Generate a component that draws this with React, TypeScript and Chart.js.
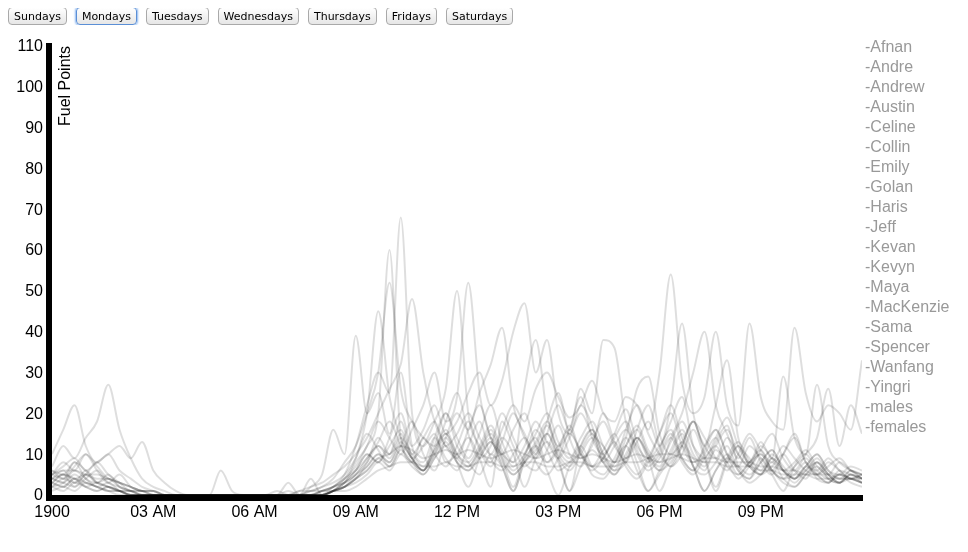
import { useEffect, useRef } from "react";
import { Chart, registerables } from "chart.js";

Chart.register(...registerables);

const days = ["Sundays", "Mondays", "Tuesdays", "Wednesdays", "Thursdays", "Fridays", "Saturdays"];
const activeDay = "Mondays";

const names = [
  "Afnan", "Andre", "Andrew", "Austin", "Celine", "Collin", "Emily", "Golan", "Haris", "Jeff",
  "Kevan", "Kevyn", "Maya", "MacKenzie", "Sama", "Spencer", "Wanfang", "Yingri", "males", "females",
];

// one value every 20 minutes, 00:00 .. 24:00
const afnan = [3,2,4,2,1,2,1,0,0, 0,0,0,0,0,0,0,0,0,0,0,0,0,0,0,1, 2,5,12,22,30,25,68,20,12,15,8,10, 14,9,2,18,12,7,10,15,9,1,12,16, 10,6,8,14,9,1,7,12,18,10,2,9, 13,8,5,7,10,6,4,8,5,3,6,4];
const andre = [6,5,8,4,3,5,2,1,0, 0,0,0,0,0,0,6,1,0,0,0,0,1,0,0,0, 1,3,8,12,20,60,14,8,6,14,20,12, 8,5,10,7,1,9,16,11,6,8,12,7, 5,9,14,8,1,6,10,15,7,5,8,12, 6,4,9,5,1,7,10,6,4,5,3,2];
const andrew = [2,4,3,6,3,2,1,1,0, 0,0,0,0,0,0,0,0,0,0,0,0,0,0,1,2, 4,8,12,20,30,52,26,18,14,12,18,25, 15,9,12,20,14,8,6,11,17,10,7,13, 18,12,8,5,9,15,22,14,9,6,11,8, 4,7,10,6,3,2,5,8,4,3,5,3];
const austin = [5,8,6,10,7,4,3,2,1, 1,0,0,0,0,0,0,0,0,0,0,0,0,1,2,3, 5,7,10,14,20,26,32,48,30,18,12,9, 16,22,14,10,8,12,18,13,9,14,20,15, 12,8,16,22,15,10,7,12,18,14,9,6, 10,15,11,8,12,9,6,5,8,6,4,5];
const celine = [7,12,9,14,18,27,16,9,4, 2,1,0,0,0,0,0,0,0,0,0,0,0,0,0,0, 1,4,9,20,45,24,14,9,6,10,15,8, 2,9,13,7,1,8,12,6,0,7,10,5, 4,8,12,6,1,5,9,13,7,1,6,10, 6,3,5,8,4,2,5,7,4,3,4,3];
const collin = [10,16,22,12,8,10,6,4,2, 1,0,0,0,0,0,0,0,0,0,0,1,0,0,2,5, 16,10,39,20,25,15,30,12,8,14,9,6, 12,18,9,6,10,14,8,5,9,15,11,7, 9,13,7,4,8,12,16,9,6,10,14,8, 12,7,5,9,6,4,7,10,6,5,7,6];
const emily = [4,3,5,3,2,1,1,0,0, 0,0,0,0,0,0,0,0,0,0,0,0,0,0,0,0, 1,2,5,8,12,10,15,9,12,18,26,50, 20,12,8,14,10,2,9,13,8,1,7,11, 8,5,9,14,10,6,8,12,7,1,6,9, 7,5,8,11,6,4,6,9,5,3,5,4];
const golan = [3,5,2,4,6,3,2,1,1, 0,0,0,0,0,0,0,0,0,0,0,0,3,0,0,1, 2,4,7,12,18,14,10,16,22,30,18,24, 52,25,14,10,16,20,12,8,11,17,10,6, 9,14,18,11,7,10,15,9,6,12,16,10, 5,8,10,6,4,5,8,4,3,5,4,3];
const haris = [2,3,6,4,2,3,1,0,0, 0,0,0,0,0,0,0,0,0,0,0,0,0,0,0,0, 1,3,6,10,8,14,20,12,16,22,15,18, 25,30,22,28,40,47,30,38,20,15,22,17, 8,12,16,10,6,9,14,8,5,9,12,7, 5,8,11,6,4,7,9,5,3,6,5,4];
const jeff = [1,2,1,3,2,1,0,0,0, 0,0,0,0,0,0,0,0,0,0,0,0,0,1,1,2, 3,5,9,15,11,7,12,18,10,6,14,20, 16,25,32,41,22,15,10,18,25,14,9,12, 20,13,8,16,22,12,7,10,16,9,1,8, 12,7,5,9,6,4,7,5,3,5,4,3];
const kevan = [5,4,8,6,3,4,2,1,0, 0,0,0,0,0,0,0,0,0,0,0,0,0,0,4,0, 1,2,4,8,14,10,18,9,6,12,20,14, 9,15,22,13,8,26,38,20,12,16,24,14, 10,15,21,13,8,11,18,24,12,8,13,17, 7,4,8,11,6,3,6,8,5,3,5,4];
const kevyn = [4,6,3,5,8,5,3,1,1, 0,0,0,0,0,0,0,0,0,0,0,0,0,0,0,0, 2,3,5,9,13,18,12,8,14,10,7,12, 18,11,7,13,20,14,9,15,22,16,26,20, 38,36,18,12,9,15,20,12,8,11,16,10, 7,12,9,6,10,14,8,5,7,9,6,5];
const maya = [3,2,4,3,2,1,1,0,0, 0,0,0,0,0,0,0,0,0,0,0,0,0,0,0,0, 1,3,6,10,8,12,16,10,14,18,12,15, 20,14,10,16,22,18,26,30,24,19,22,28, 20,18,24,22,16,30,54,28,20,24,40,22, 17,42,24,18,16,41,25,18,22,20,16,33];
const mackenzie = [2,1,3,2,1,2,1,0,0, 0,0,0,0,0,0,0,0,0,0,0,0,0,0,0,1, 2,3,5,7,10,8,12,9,6,10,14,9, 7,11,15,9,2,10,14,8,12,16,10,7, 11,15,9,13,18,12,22,42,20,12,9,14, 10,7,12,9,6,8,11,7,5,8,6,4];
const sama = [6,4,7,10,6,3,5,2,1, 0,0,0,0,0,0,0,0,0,0,0,0,0,0,0,0, 1,2,4,6,9,7,11,8,5,9,13,8, 6,10,14,9,5,8,12,17,10,7,11,15, 9,6,12,16,10,7,14,20,30,40,22,15, 9,14,8,5,10,15,8,6,9,6,4,5];
const spencer = [3,5,4,2,3,2,1,1,0, 0,0,0,0,0,0,0,0,0,0,0,0,0,0,1,1, 2,4,6,9,12,9,14,10,7,11,16,10, 8,12,17,11,7,10,15,20,13,9,14,18, 12,8,14,26,29,15,10,13,18,12,22,33, 14,9,6,10,7,4,7,10,6,4,6,5];
const wanfang = [4,3,2,5,3,2,1,0,0, 0,0,0,0,0,0,0,0,0,0,0,0,0,0,0,0, 1,2,4,7,10,8,13,9,6,11,15,10, 7,11,16,10,6,9,13,18,11,8,12,16, 10,7,12,17,11,8,13,18,12,9,14,19, 12,8,13,9,29,14,10,27,12,8,6,5];
const yingri = [5,7,9,6,8,10,12,9,13, 6,3,1,0,0,0,0,0,0,0,0,0,0,0,0,0, 1,2,3,5,8,6,10,7,5,9,12,8, 6,9,13,8,5,8,11,15,9,6,10,14, 8,5,10,14,9,6,11,16,10,7,12,16, 10,7,11,15,9,6,10,14,26,12,22,15];
const males = [5,6,6,5,4,4,3,2,1, 1,0,0,0,0,0,0,0,0,0,0,0,0,0,0,1, 1,2,4,6,9,10,12,11,9,10,11,10, 11,10,9,10,11,10,9,10,11,10,9,10, 9,8,9,10,9,8,9,10,9,8,8,7, 7,7,6,6,5,5,5,4,4,4,4,3];
const females = [4,5,4,5,5,4,3,2,1, 1,0,0,0,0,0,0,0,0,0,0,0,0,0,0,0, 1,1,2,4,6,7,8,8,7,7,8,7, 7,8,8,7,7,8,8,7,7,8,8,7, 7,7,8,8,9,10,10,9,8,9,9,8, 8,8,7,7,6,6,5,5,5,4,4,4];

const series = [
  afnan, andre, andrew, austin, celine, collin, emily, golan, haris, jeff,
  kevan, kevyn, maya, mackenzie, sama, spencer, wanfang, yingri, males, females,
];

const xTickLabels = ["1900", "03 AM", "06 AM", "09 AM", "12 PM", "03 PM", "06 PM", "09 PM"];
const yTicks = [0, 10, 20, 30, 40, 50, 60, 70, 80, 90, 100, 110];
const yTitle = "Fuel Points";

const font = '"Liberation Sans", Arial, Helvetica, sans-serif';

const overlayText = {
  id: "overlayText",
  afterDraw(chart: Chart) {
    const { ctx, chartArea } = chart;
    ctx.save();
    ctx.font = `16px ${font}`;
    ctx.fillStyle = "#999";
    ctx.textBaseline = "middle";
    ctx.textAlign = "left";
    chart.data.datasets.forEach((ds, i) => {
      ctx.fillText("-" + ds.label, chartArea.right + 3, chartArea.top + 2 + i * 20);
    });
    ctx.fillStyle = "#000";
    ctx.textBaseline = "alphabetic";
    ctx.textAlign = "right";
    ctx.translate(chartArea.left + 21, chartArea.top);
    ctx.rotate(-Math.PI / 2);
    ctx.fillText(yTitle, 0, 0);
    ctx.restore();
  },
};

const FuelChart = () => {
  const canvasRef = useRef<HTMLCanvasElement | null>(null);

  useEffect(() => {
    if (!canvasRef.current) return;
    const chart = new Chart(canvasRef.current, {
      type: "line",
      data: {
        datasets: series.map((values, i) => ({
          label: names[i],
          data: values.map((v, j) => ({ x: j / 3, y: v })),
          borderColor: "rgba(0,0,0,0.13)",
          borderWidth: 2,
          pointRadius: 0,
          fill: false,
          cubicInterpolationMode: "monotone" as const,
        })),
      },
      options: {
        responsive: false,
        animation: false,
        layout: { padding: { top: 46, right: 106, left: 0, bottom: 0 } },
        plugins: { legend: { display: false }, tooltip: { enabled: false } },
        scales: {
          x: {
            type: "linear",
            min: -0.09,
            max: 24,
            grid: { display: false, drawTicks: false },
            border: { display: true, width: 6, color: "#000" },
            afterBuildTicks: (axis: any) => {
              axis.ticks = xTickLabels.map((_, i) => ({ value: i * 3 }));
            },
            afterFit: (axis: any) => {
              axis.height = 54;
            },
            ticks: {
              padding: 5,
              maxRotation: 0,
              autoSkip: false,
              color: "#000",
              font: { family: font, size: 16 },
              callback: (v: any) => xTickLabels[Math.round(Number(v) / 3)] ?? "",
            },
          },
          y: {
            min: -0.74,
            max: 110,
            grid: { display: false, drawTicks: false },
            border: { display: true, width: 6, color: "#000" },
            afterBuildTicks: (axis: any) => {
              axis.ticks = yTicks.map((v) => ({ value: v }));
            },
            afterFit: (axis: any) => {
              axis.width = 49;
            },
            ticks: {
              padding: 6,
              labelOffset: 1,
              color: "#000",
              font: { family: font, size: 16 },
            },
          },
        },
      },
      plugins: [overlayText],
    });
    return () => chart.destroy();
  }, []);

  return (
    <canvas
      ref={canvasRef}
      width={968}
      height={552}
      style={{ position: "absolute", left: 0, top: 0 }}
    />
  );
};

export default function App() {
  return (
    <div>
      <div style={{ position: "relative", zIndex: 1, display: "flex", gap: 9, marginTop: -1 }}>
        {days.map((d) => (
          <button
            key={d}
            style={{
              font: '11px "DejaVu Sans", Verdana, sans-serif',
              height: 18,
              padding: "0 5px",
              margin: 0,
              borderRadius: 4,
              color: "#000",
              background: "linear-gradient(#ffffff, #e6e6e6)",
              border: d === activeDay ? "1px solid #5b8fd6" : "1px solid #a9a9a9",
              boxShadow: d === activeDay ? "0 0 2px 1px #8db8f0" : "none",
            }}
          >
            {d}
          </button>
        ))}
      </div>
      <FuelChart />
    </div>
  );
}
